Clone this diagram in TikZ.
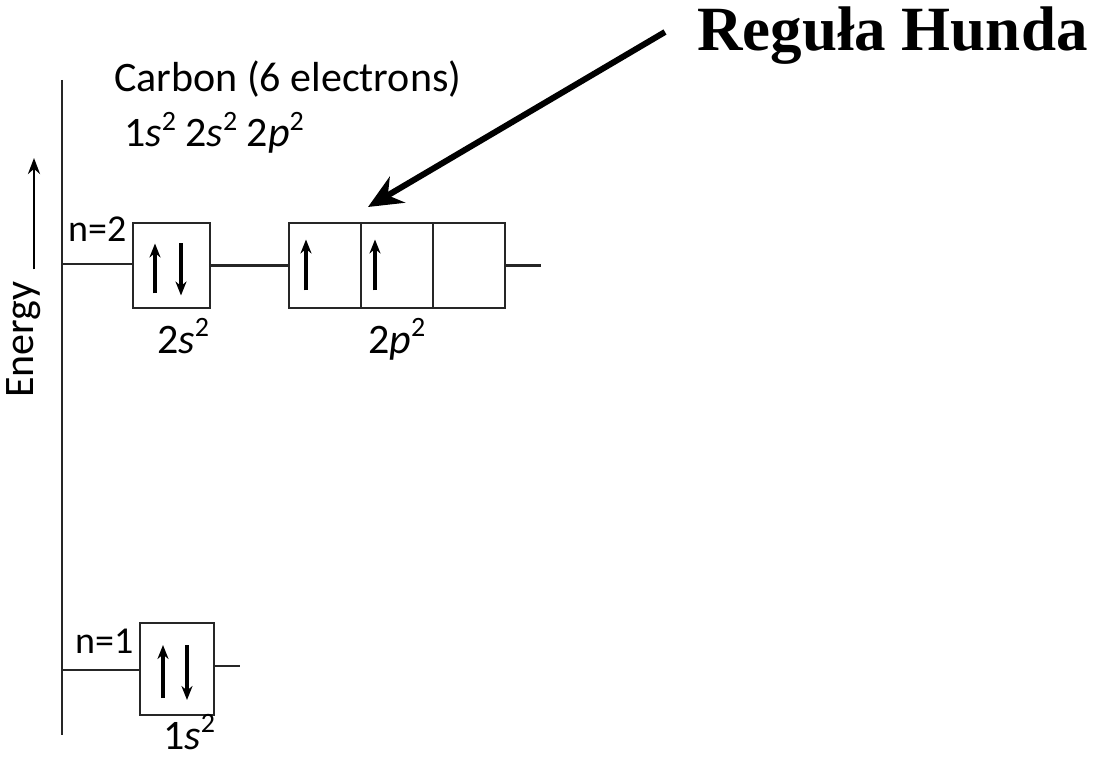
\documentclass[tikz,border=0pt]{standalone}
\usepackage{fontspec}
\setmainfont{Carlito}
\newfontfamily\hundfont{Liberation Serif}
\usetikzlibrary{arrows.meta,positioning,calc}
\definecolor{cLine}{HTML}{262626}
\newcommand\supr[1]{\raisebox{0.4em}{\fontsize{28}{30}\selectfont #1}}
\tikzset{
  orb/.style={draw=cLine,line width=2.2pt,minimum width=77pt,minimum height=85pt,inner sep=0pt,outer sep=0pt},
  pbox/.style={draw=cLine,line width=2.2pt,minimum width=72pt,minimum height=85pt,inner sep=0pt,outer sep=0pt},
  lvl/.style={cLine,line width=2.2pt},
  spin/.style={-{Stealth[length=14pt,width=11pt]},line width=3.2pt,black},
  lab/.style={font=\fontsize{42}{46}\selectfont,inner sep=0pt,anchor=base west},
  nlab/.style={font=\fontsize{38}{42}\selectfont,inner sep=0pt,anchor=base west},
  earrow/.style={-{Stealth[length=16pt,width=12pt]},line width=2.8pt,black},
  hund/.style={-{Stealth[length=34pt,width=30pt]},line width=6pt,black},
}

\begin{document}
\begin{tikzpicture}[x=1pt,y=-1pt]
  \useasboundingbox (0,0) rectangle (1103,759);
  % energy axis
  \coordinate (axtop) at (62,80);
  \coordinate (axbot) at (62,735);
  \draw[lvl] (axtop) -- (axbot);
  \node[lab,rotate=90] (en) at (34,398) {Energy};
  \coordinate (entop) at (34,158);
  \draw[earrow] ([yshift=12pt]en.base east) -- (entop);
  % headline
  \node[lab] (elem) at (114,92) {Carbon (6 electrons)};
  \node[lab] (conf) at (124,147) {1\textit{s}\supr{2} 2\textit{s}\supr{2} 2\textit{p}\supr{2}};
  % n=2 shell
  \node[orb] (s2) at (171.5,265.5) {};
  \node[pbox] (p1) at (325,265.5) {};
  \node[pbox,right=0pt of p1] (p2) {};
  \node[pbox,right=0pt of p2] (p3) {};
  \coordinate (n2) at (62,264);
  \coordinate (p2end) at (541,265.5);
  \draw[lvl] (n2) -- (n2 -| s2.west);
  \draw[lvl] (s2.east) -- (p1.west);
  \draw[lvl] (p3.east) -- (p2end);
  \node[nlab] (n2lab) at (68,242) {n=2};
  \node[lab] (s2lab) at (157,353) {2\textit{s}\supr{2}};
  \node[lab] (p2lab) at (368,353) {2\textit{p}\supr{2}};
  \draw[spin] ([xshift=-16.5pt,yshift=-28pt]s2.center) -- ([xshift=-16.5pt,yshift=22pt]s2.center);
  \draw[spin] ([xshift=9.5pt,yshift=22pt]s2.center) -- ([xshift=9.5pt,yshift=-30pt]s2.center);
  \draw[spin] ([xshift=-19pt,yshift=-25pt]p1.center) -- ([xshift=-19pt,yshift=26pt]p1.center);
  \draw[spin] ([xshift=-22pt,yshift=-25pt]p2.center) -- ([xshift=-22pt,yshift=26pt]p2.center);
  % n=1 shell
  \node[orb,minimum width=74pt,minimum height=92pt] (s1) at (177,669) {};
  \coordinate (n1) at (62,670);
  \coordinate (s1end) at (240,666);
  \draw[lvl] (n1) -- (n1 -| s1.west);
  \draw[lvl] (s1.east |- s1end) -- (s1end);
  \node[nlab] (n1lab) at (75,653) {n=1};
  \node[lab] (s1lab) at (163,749) {1\textit{s}\supr{2}};
  \draw[spin] ([xshift=-14pt,yshift=-29pt]s1.center) -- ([xshift=-14pt,yshift=24pt]s1.center);
  \draw[spin] ([xshift=10pt,yshift=24pt]s1.center) -- ([xshift=10pt,yshift=-31pt]s1.center);
  % Hund's rule
  \node[inner sep=0pt,anchor=base west,font=\hundfont\bfseries\fontsize{63}{66}\selectfont] (hunda) at (697,51) {Reguła Hunda};
  \coordinate (hstart) at (665,32);
  \coordinate (htip) at (368,207);
  \draw[hund] (hstart) -- (htip);
\end{tikzpicture}
\end{document}
